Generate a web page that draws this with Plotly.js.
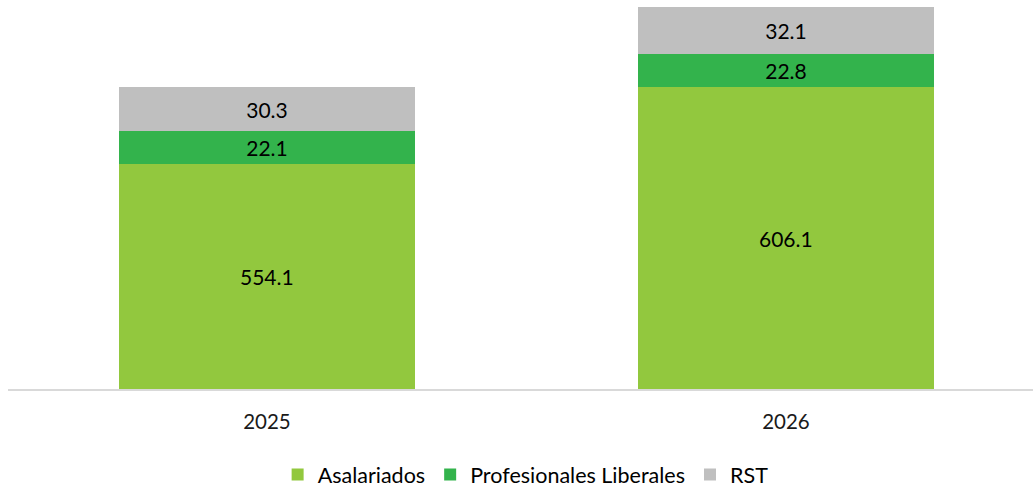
<!DOCTYPE html>
<html>
<head>
<meta charset="utf-8">
<script src="https://cdn.plot.ly/plotly-3.0.1.min.js"></script>
<style>html,body{margin:0;padding:0;background:#fff;}#chart{width:1033px;height:487px;}</style>
</head>
<body>
<div id="chart"></div>
<script>
const years = ["2025", "2026"];
const asalariados = [554.1, 606.1];
const profesionales = [22.1, 22.8];
const rst = [30.3, 32.1];
const seriesNames = ["Asalariados", "Profesionales Liberales", "RST"];
const seriesColors = ["#92c83e", "#33b34c", "#bfbfbf"];
const yRange = [400, 665.9];

const FONT = "Lato, 'Open Sans', sans-serif";
function mk(vals, i, showText) {
  return {
    type: "bar", x: years, y: vals, name: seriesNames[i],
    marker: {color: seriesColors[i], line: {width: 0}},
    text: vals.map(v => v.toFixed(1)), textposition: showText ? "inside" : "none",
    insidetextanchor: "middle", constraintext: "none",
    textfont: {family: FONT, size: 21, color: "#000000"},
    hoverinfo: "none"
  };
}
const data = [mk(asalariados, 0, false), mk(profesionales, 1, true), mk(rst, 2, true)];
// labels for the bottom segment, centred on its visible part (axis starts above zero)
const annotations = years.map((yr, k) => ({
  x: k, y: (yRange[0] + asalariados[k]) / 2, xref: "x", yref: "y",
  text: asalariados[k].toFixed(1), showarrow: false,
  font: {family: FONT, size: 21, color: "#000000"}
}));
const layout = {
  width: 1033, height: 487,
  margin: {l: 8, r: 0, t: 0, b: 97.5, autoexpand: false},
  barmode: "stack", bargap: 0.43,
  paper_bgcolor: "#ffffff", plot_bgcolor: "#ffffff",
  showlegend: true,
  legend: {orientation: "h", x: 0.505, xanchor: "center", y: -0.22, yanchor: "middle",
    font: {family: FONT, size: 21.5, color: "#000000"}, traceorder: "normal"},
  annotations: annotations,
  xaxis: {type: "category", range: [-0.499, 1.476], showline: true, linecolor: "#d9d9d9", linewidth: 1.5,
    ticks: "outside", ticklen: 13.5, tickcolor: "rgba(0,0,0,0)", automargin: false,
    tickfont: {family: FONT, size: 20.5, color: "#1a1a1a"}, fixedrange: true},
  yaxis: {range: yRange, visible: false, showgrid: false, zeroline: false, fixedrange: true}
};
Plotly.newPlot("chart", data, layout, {displayModeBar: false, staticPlot: true});
</script>
</body>
</html>
